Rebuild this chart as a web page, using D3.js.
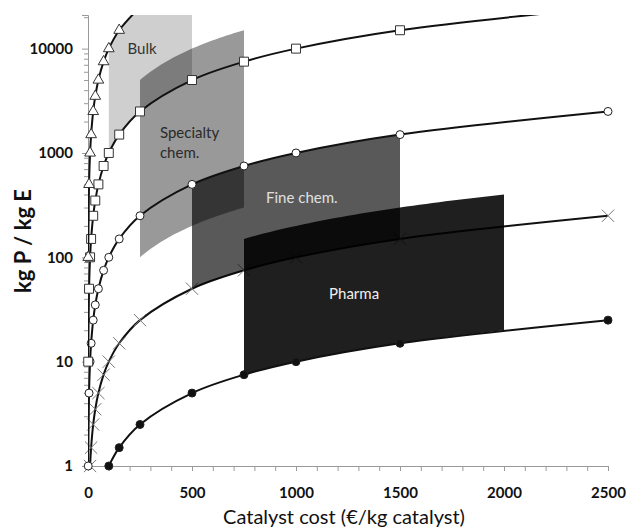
<!DOCTYPE html>
<html>
<head>
<meta charset="utf-8">
<script src="https://cdn.jsdelivr.net/npm/d3@7"></script>
<style>
   body { margin: 0; background: #fff; }
   svg { display: block; font-family: Lato, "Open Sans", sans-serif; }
</style>
</head>
<body>
<svg class="catalystchart" width="629" height="532"></svg>
<script>
// catalyst cost (€/kg catalyst) shared by all curves
var catalystCost = [1, 5, 10, 15, 25, 35, 50, 75, 100, 150, 250, 500, 750, 1000, 1500, 2500];

// kg P / kg E, one value per cost above (null = off the chart)
var triangleValues = [100, 500, 1000, 1500, 2500, 3500, 5000, 7500, 10000, 15000, 25000];
var squareValues = [10, 50, 100, 150, 250, 350, 500, 750, 1000, 1500, 2500, 5000, 7500, 10000, 15000, 25000];
var openCircleValues = [1, 5, 10, 15, 25, 35, 50, 75, 100, 150, 250, 500, 750, 1000, 1500, 2500];
var crossValues = [null, null, 1, 1.5, 2.5, 3.5, 5, 7.5, 10, 15, 25, 50, 75, 100, 150, 250];
var filledCircleValues = [null, null, null, null, null, null, null, null, 1, 1.5, 2.5, 5, 7.5, 10, 15, 25];

// market segments: cost span and productivity band at each end
var regionNames = ['Bulk', 'Specialty chem.', 'Fine chem.', 'Pharma'];
var regionCostFrom = [100, 250, 500, 750];
var regionCostTo = [500, 750, 1500, 2000];
var regionLowFrom = [1000, 100, 50, 7.5];
var regionLowTo = [5000, 300, 150, 20];
var regionHighFrom = [10000, 5000, 500, 150];
var regionHighTo = [50000, 15000, 1500, 400];
var regionLabelCost = [190, 346, 856, 1159];
var regionLabelValue = [10000, 1550, 370, 45];

var xTicks = [0, 500, 1000, 1500, 2000, 2500];
var yTicks = [1, 10, 100, 1000, 10000];

(function drawChart() {
   var svg = d3.select('svg.catalystchart');
   var margin = {top: 15, right: 21, bottom: 66, left: 88};
   var width = +svg.attr('width'), height = +svg.attr('height');
   var innerWidth = width - margin.left - margin.right;
   var innerHeight = height - margin.top - margin.bottom;

   var regionFill = ['rgba(0,0,0,0.19)', 'rgba(0,0,0,0.40)', 'rgba(0,0,0,0.65)', 'rgba(0,0,0,0.88)'];
   var regionText = ['#333', '#2a2a2a', '#e0e0e0', '#f0f0f0'];

   var x = d3.scaleLinear().domain([0, 2500]).range([0, innerWidth]);
   var y = d3.scaleLog().domain([1, 21000]).range([innerHeight, 0]);

   svg.append('rect').attr('width', width).attr('height', height).attr('fill', '#fff');

   svg.append('defs').append('clipPath').attr('id', 'plotclip')
      .append('rect').attr('width', innerWidth).attr('height', innerHeight);

   var g = svg.append('g').attr('transform', 'translate(' + margin.left + ',' + margin.top + ')');

   // axes
   var minorY = [];
   [1, 10, 100, 1000, 10000].forEach(function (decade) {
      for (var k = 2; k <= 9; k++) {
         if (decade * k <= 21000) minorY.push(decade * k);
      }
   });

   var yMinor = g.append('g').attr('class', 'axis axis--yminor')
      .call(d3.axisLeft(y).tickValues(minorY).tickSize(4).tickFormat(''));
   g.append('g').attr('class', 'axis axis--y')
      .call(d3.axisLeft(y).tickValues(yTicks).tickSize(6).tickPadding(9).tickFormat(d3.format('d')));
   g.append('g').attr('class', 'axis axis--x')
      .attr('transform', 'translate(0,' + innerHeight + ')')
      .call(d3.axisBottom(x).tickValues(d3.range(0, 2501, 100)).tickSize(5).tickPadding(16)
         .tickFormat(function (d) { return xTicks.indexOf(d) >= 0 ? d : ''; }));

   g.selectAll('.axis path, .axis line').attr('stroke', '#9a9a9a');
   yMinor.select('.domain').remove();
   g.selectAll('.axis text')
      .attr('fill', '#111')
      .style('font-family', 'Lato, sans-serif')
      .style('font-weight', 'bold')
      .style('font-size', '15px');

   var line = d3.line()
      .x(function (d) { return x(d.cost); })
      .y(function (d) { return y(d.value); })
      .curve(d3.curveCatmullRom.alpha(0.5));

   function points(values) {
      return values.map(function (v, i) {
         return {cost: catalystCost[i], value: v};
      }).filter(function (d) { return d.value != null; });
   }

   function drawSeries(layer, values, marker) {
      var data = points(values);
      layer.append('path')
         .attr('clip-path', 'url(#plotclip)')
         .attr('d', line(data))
         .attr('fill', 'none')
         .attr('stroke', '#111')
         .attr('stroke-width', 2);

      var shown = data.filter(function (d) { return d.value <= y.domain()[1]; });
      var marks = layer.selectAll('.mark-' + marker).data(shown).enter();

      if (marker === 'triangle' || marker === 'square') {
         marks.append('path')
            .attr('class', 'mark-' + marker)
            .attr('transform', function (d) { return 'translate(' + x(d.cost) + ',' + y(d.value) + ')'; })
            .attr('d', d3.symbol().type(marker === 'triangle' ? d3.symbolTriangle : d3.symbolSquare)
               .size(marker === 'triangle' ? 50 : 80))
            .attr('fill', '#fff')
            .attr('stroke', '#333')
            .attr('stroke-width', 1);
      } else if (marker === 'cross') {
         marks.append('path')
            .attr('class', 'mark-' + marker)
            .attr('transform', function (d) { return 'translate(' + x(d.cost) + ',' + y(d.value) + ')'; })
            .attr('d', d3.symbol().type(d3.symbolX).size(100))
            .attr('fill', 'none')
            .attr('stroke', '#777')
            .attr('stroke-width', 1);
      } else {
         marks.append('circle')
            .attr('class', 'mark-' + marker)
            .attr('cx', function (d) { return x(d.cost); })
            .attr('cy', function (d) { return y(d.value); })
            .attr('r', 4)
            .attr('fill', marker === 'filled' ? '#111' : '#fff')
            .attr('stroke', '#222')
            .attr('stroke-width', 1);
      }
   }

   // the x/10 curve sits beneath the segments
   drawSeries(g.append('g'), crossValues, 'cross');

   // market segments
   var regionGroup = g.append('g').attr('clip-path', 'url(#plotclip)');
   regionNames.forEach(function (name, i) {
      var steps = d3.range(0, 41).map(function (k) { return k / 40; });
      var cost = d3.interpolateNumber(regionCostFrom[i], regionCostTo[i]);
      var low = d3.interpolateNumber(regionLowFrom[i], regionLowTo[i]);
      var high = d3.interpolateNumber(regionHighFrom[i], regionHighTo[i]);
      var outline = steps.map(function (t) { return [x(cost(t)), y(high(t))]; })
         .concat(steps.slice().reverse().map(function (t) { return [x(cost(t)), y(low(t))]; }));

      regionGroup.append('path')
         .attr('d', d3.line()(outline) + 'Z')
         .attr('fill', regionFill[i]);
   });

   drawSeries(g.append('g'), filledCircleValues, 'filled');
   drawSeries(g.append('g'), openCircleValues, 'open');
   drawSeries(g.append('g'), squareValues, 'square');
   drawSeries(g.append('g'), triangleValues, 'triangle');

   // segment labels
   regionNames.forEach(function (name, i) {
      var words = name === 'Specialty chem.' ? ['Specialty', 'chem.'] : [name];
      var label = g.append('text')
         .attr('x', x(regionLabelCost[i]))
         .attr('y', y(regionLabelValue[i]))
         .attr('dy', '0.35em')
         .attr('fill', regionText[i])
         .style('font-size', '15px');
      words.forEach(function (w, k) {
         label.append('tspan')
            .attr('x', x(regionLabelCost[i]))
            .attr('dy', k === 0 ? '0.35em' : '20px')
            .text(w);
      });
   });

   // axis titles
   svg.append('text')
      .attr('transform', 'translate(31,' + (margin.top + 226) + ') rotate(-90)')
      .attr('text-anchor', 'middle')
      .attr('fill', '#111')
      .style('font-weight', 'bold')
      .style('font-size', '22px')
      .text('kg P / kg E');

   svg.append('text')
      .attr('x', margin.left + 256)
      .attr('y', 524)
      .attr('text-anchor', 'middle')
      .attr('fill', '#111')
      .style('font-size', '20px')
      .text('Catalyst cost (€/kg catalyst)');
})();
</script>
</body>
</html>
